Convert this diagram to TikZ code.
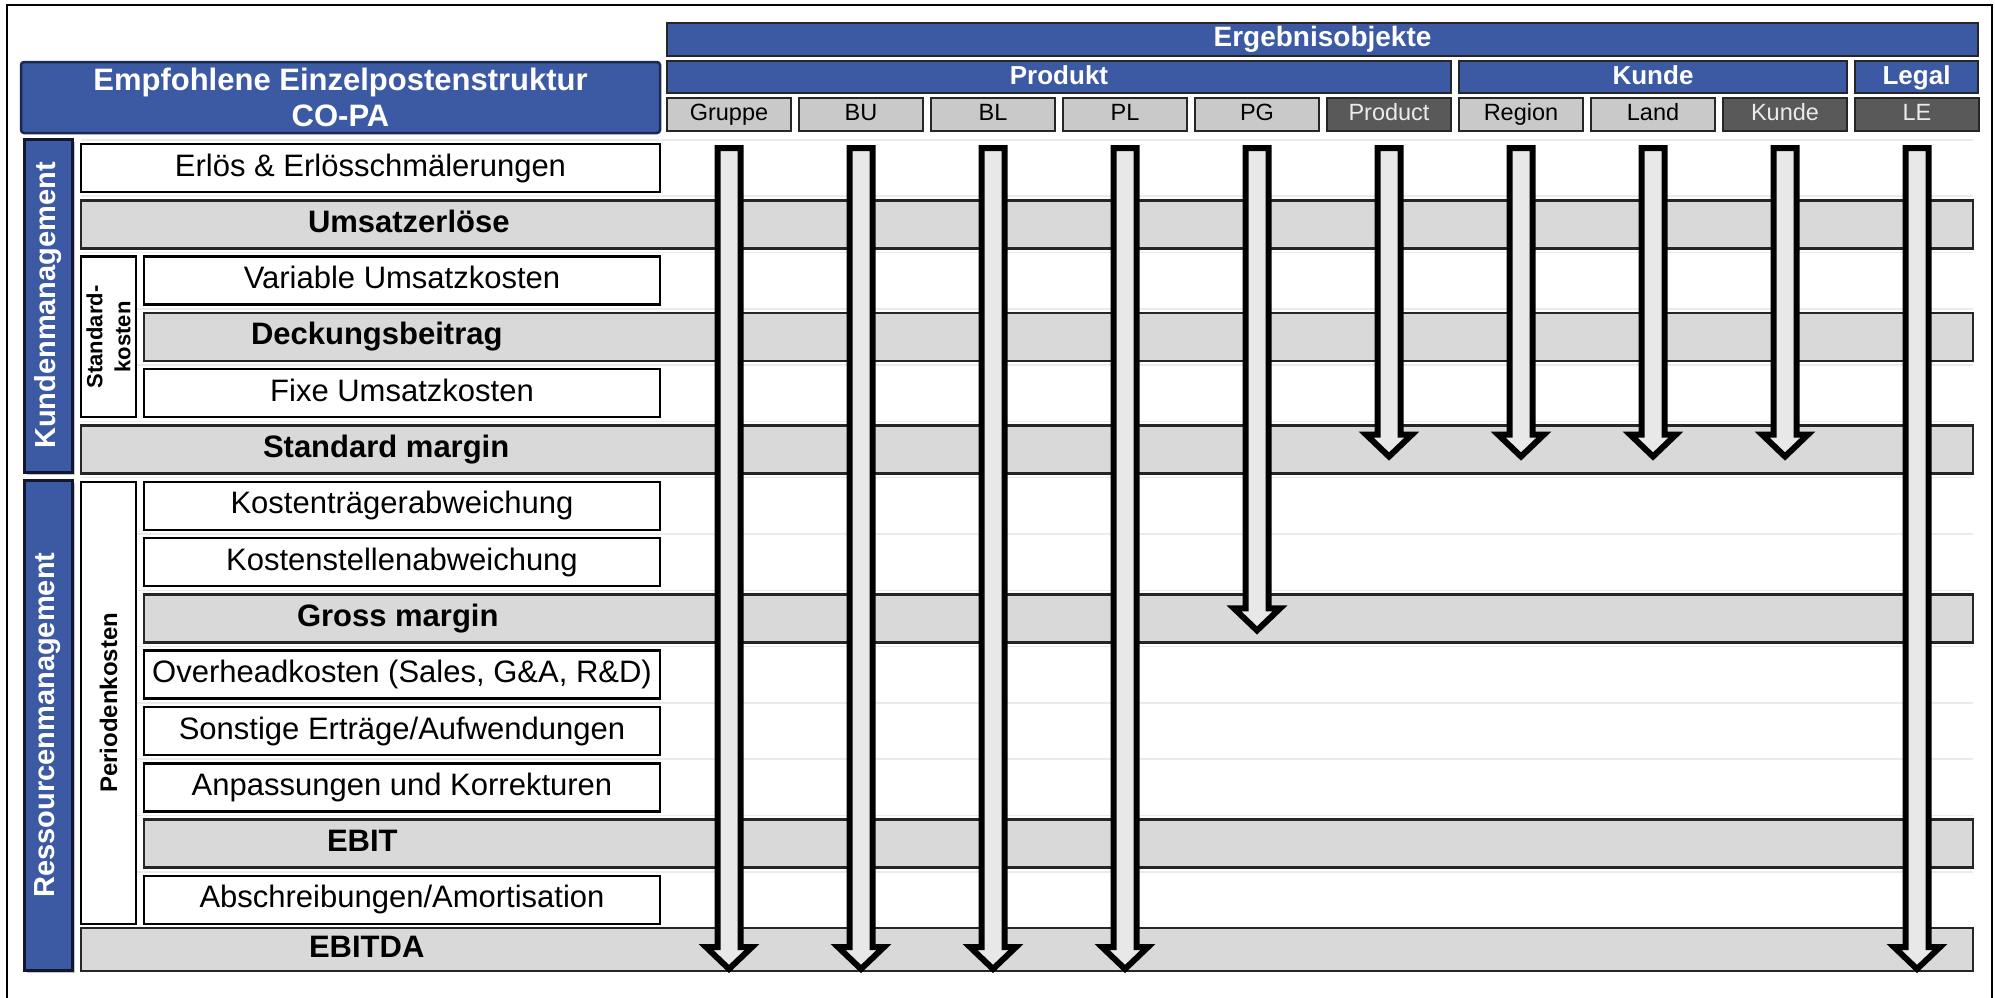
\documentclass[tikz,border=0pt]{standalone}
\usepackage{fontspec}
\setmainfont{Liberation Sans}
\setsansfont{Liberation Sans}
\usetikzlibrary{calc, shadows}
\definecolor{colBlue}{HTML}{3C59A4}
\definecolor{colBlueBdr}{HTML}{1B2850}
\definecolor{colBar}{HTML}{D9D9D9}
\definecolor{colHdr}{HTML}{C9C9C9}
\definecolor{colHdrDark}{HTML}{595959}
\definecolor{colArrow}{HTML}{E8E8E8}
\definecolor{colGrid}{HTML}{EBEBEB}

\tikzset{
  every node/.style={outer sep=0pt, inner sep=1pt},
  titlebox/.style={draw=colBlueBdr, line width=2.5pt, rounded corners=3pt, fill=colBlue, text=white,
    align=center, font=\fontsize{31}{36}\selectfont\bfseries},
  bluebar/.style={draw=black!85, line width=2pt, fill=colBlue, text=white,
    font=\fontsize{26}{30}\selectfont\bfseries, text height=19pt, text depth=5pt},
  hdrbox/.style={draw=black!85, line width=2pt, fill=colHdr, minimum width=124, minimum height=33,
    font=\fontsize{23.5}{27}\selectfont, text height=17pt, text depth=5pt},
  hdrdark/.style={hdrbox, fill=colHdrDark, text=black!8},
  rowbox/.style={draw=black, line width=2.5pt, fill=white, minimum width=516, minimum height=48,
    font=\fontsize{31}{36}\selectfont, text height=22.5pt, text depth=6.5pt},
  barbox/.style={draw=black!85, line width=2.5pt, fill=colBar, minimum width=1829, minimum height=48},
  bartext/.style={anchor=west, font=\fontsize{31}{36}\selectfont\bfseries, text height=22.5pt, text depth=6.5pt},
  sidebox/.style={draw=colBlueBdr!60!black, line width=3pt, fill=colBlue, minimum width=48,
    drop shadow={shadow xshift=3pt, shadow yshift=-3pt, fill=black!45}},
  sidetext/.style={rotate=90, text=white, font=\fontsize{29}{34}\selectfont\bfseries},
  kostbox/.style={draw=black, line width=2.5pt, fill=white, minimum width=55},
  kosttext/.style={rotate=90, align=center, font=\fontsize{22}{28}\selectfont\bfseries},
  gridline/.style={draw=colGrid, line width=1.5pt},
  blockarrow/.style={draw=black, fill=colArrow, line width=6pt, line join=miter}
}

\begin{document}
\begin{tikzpicture}[x=1pt, y=-1pt, font=\sffamily]
\useasboundingbox (0,0) rectangle (1995,997);
\draw[line width=2.5pt] (7,1010) -- (7,5) -- (1992,5) -- (1992,1010);

% table grid
\foreach \i in {0,...,14}
  \draw[gridline] (81,139.9+56.3*\i) -- (1973,139.9+56.3*\i);

% header
\node[titlebox, minimum width=639, minimum height=71] (title) at (340.5,97.5)
  {Empfohlene Einzelpostenstruktur\\CO-PA};
\node[bluebar, minimum width=1311, minimum height=33, font=\fontsize{28}{32}\selectfont\bfseries]
  (ergebnis) at (1322.5,39.5) {Ergebnisobjekte};
\node[bluebar, minimum width=784, minimum height=32] (produkt) at (1059,77) {Produkt};
\node[bluebar, minimum width=388, minimum height=32] (kunde) at (1653,77) {Kunde};
\node[bluebar, minimum width=123, minimum height=32] (legal) at (1916.5,77) {Legal};
\foreach \n/\t/\s [count=\i from 0] in {grp/Gruppe/hdrbox, bu/BU/hdrbox, bl/BL/hdrbox,
    pl/PL/hdrbox, pg/PG/hdrbox, prod/Product/hdrdark, reg/Region/hdrbox,
    land/Land/hdrbox, kd/Kunde/hdrdark, le/LE/hdrdark}
  \node[\s] (\n) at (729+132*\i,114.5) {\t};

% side labels
\node[sidebox, minimum height=333] (kunden) at (48,305.5) {};
\node[sidetext] (kundentxt) at (kunden.center) {Kundenmanagement};
\node[sidebox, minimum height=490] (ressourcen) at (48,725) {};
\node[sidetext] (ressourcentxt) at (ressourcen.center) {Ressourcenmanagement};
\node[kostbox, minimum height=160.6] (stdkost) at (108.5,336.9) {};
\node[kosttext] (stdkosttxt) at (stdkost.center) {Standard-\\kosten};
\node[kostbox, minimum height=442] (perkost) at (108.5,702.85) {};
\node[kosttext, font=\fontsize{24}{28}\selectfont\bfseries] (perkosttxt) at (perkost.center) {Periodenkosten};

% rows
\node[rowbox, minimum width=579] (erloes) at (370.5,168) {Erlös \& Erlösschmälerungen};
\node[barbox, minimum width=1892] (umsatz) at (1027,224.3) {};
\node[bartext] (umsatztxt) at (307,224.3) {Umsatzerlöse};
\node[rowbox] (varkost) at (402,280.6) {Variable Umsatzkosten};
\node[barbox] (deckung) at (1058.5,336.9) {};
\node[bartext] (deckungtxt) at (250,336.9) {Deckungsbeitrag};
\node[rowbox] (fixkost) at (402,393.2) {Fixe Umsatzkosten};
\node[barbox, minimum width=1892] (stdm) at (1027,449.5) {};
\node[bartext] (stdmtxt) at (262,449.5) {Standard margin};
\node[rowbox] (ktabw) at (402,505.8) {Kostenträgerabweichung};
\node[rowbox] (ksabw) at (402,562.1) {Kostenstellenabweichung};
\node[barbox] (gross) at (1058.5,618.4) {};
\node[bartext] (grosstxt) at (296,618.4) {Gross margin};
\node[rowbox] (overhead) at (402,674.7) {Overheadkosten (Sales, G\&A, R\&D)};
\node[rowbox] (sonst) at (402,731) {Sonstige Erträge/Aufwendungen};
\node[rowbox] (anpass) at (402,787.3) {Anpassungen und Korrekturen};
\node[barbox] (ebit) at (1058.5,843.6) {};
\node[bartext] (ebittxt) at (326,843.6) {EBIT};
\node[rowbox] (abschr) at (402,899.9) {Abschreibungen/Amortisation};
\node[barbox, minimum width=1892, minimum height=43] (ebitda) at (1027,949.5) {};
\node[bartext] (ebitdatxt) at (308,949.5) {EBITDA};

% arrows
\foreach \col/\bar/\lift in {grp/ebitda/2, bu/ebitda/2, bl/ebitda/2, pl/ebitda/2, pg/gross/12,
    prod/stdm/17, reg/stdm/17, land/stdm/17, kd/stdm/17, le/ebitda/2}
  \draw[blockarrow]
    ($(\col.south)+(-11.5,17)$) -- ($(\col.south)+(11.5,17)$)
    -- ($(\col.south |- \bar.south)+(11.5,-\lift-22)$)
    -- ($(\col.south |- \bar.south)+(23,-\lift-22)$)
    -- ($(\col.south |- \bar.south)+(0,-\lift)$)
    -- ($(\col.south |- \bar.south)+(-23,-\lift-22)$)
    -- ($(\col.south |- \bar.south)+(-11.5,-\lift-22)$) -- cycle;
\end{tikzpicture}
\end{document}
